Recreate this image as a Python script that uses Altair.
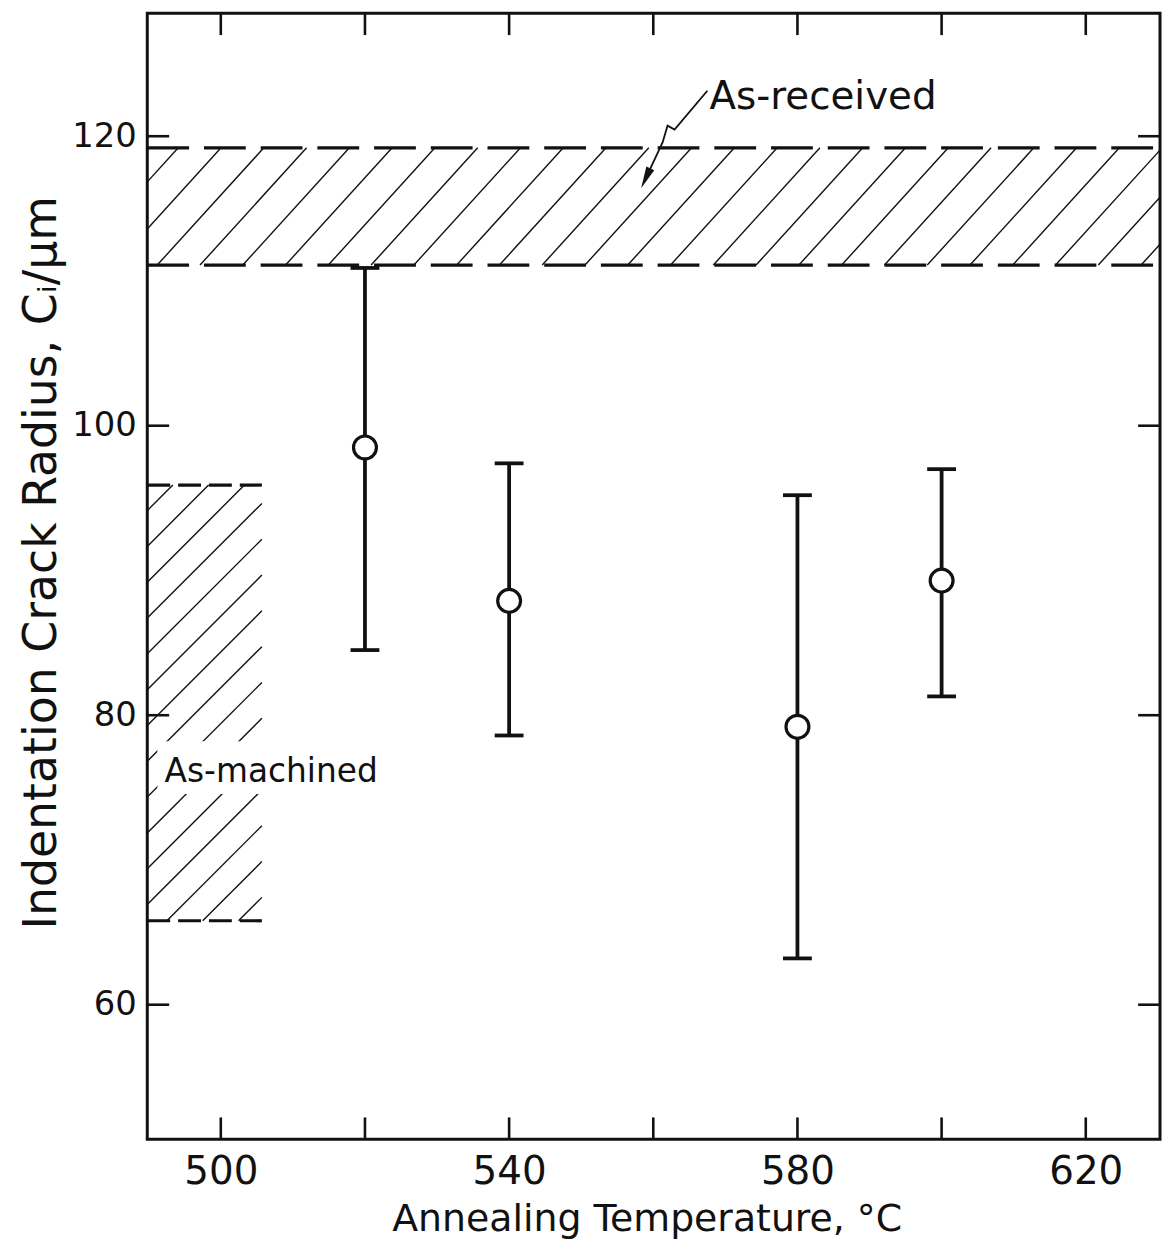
import altair as alt
import pandas as pd

# ---------------- data ----------------
temps = [520, 540, 580, 600]
radius = [98.5, 87.9, 79.2, 89.3]
err_hi = [110.9, 97.4, 95.2, 97.0]
err_lo = [84.5, 78.6, 63.2, 81.3]

received_lo, received_hi = 111.1, 119.2
machined_lo, machined_hi = 65.8, 95.9
machined_x_end = 505.7

x_tick_values = [500, 520, 540, 560, 580, 600, 620]
x_label_values = [500, 540, 580, 620]
y_tick_values = [60, 80, 100, 120]

X_DOMAIN = [489.8, 630.3]
Y_DOMAIN = [50.7, 128.5]

# annotation anchors (data units)
received_text = {"x": 567.8, "y": 121.85, "t": "As-received"}
machined_text = {"x": 492.2, "y": 75.4, "t": "As-machined"}
machined_text_box = {"x": 491.2, "x2": 521.8, "y": 74.55, "y2": 78.2}
leader_x = [567.5, 562.95, 561.98, 561.29, 558.95]
leader_y = [123.14, 120.46, 120.73, 119.57, 117.09]
arrow_pt = {"x": 558.95, "y": 117.09}

# ---------------- layout ----------------
W, H = 1018, 1132
TICK = 22
FONT = "DejaVu Sans"
INK = "#111111"

kx = W / (X_DOMAIN[1] - X_DOMAIN[0])
ky = H / (Y_DOMAIN[1] - Y_DOMAIN[0])


def hatch_segments(x0, x1, y0, y1, spacing_px, slope, phase_px):
    X0 = (x0 - X_DOMAIN[0]) * kx
    X1 = (x1 - X_DOMAIN[0]) * kx
    run = (y1 - y0) * ky / slope
    segs = []
    c = phase_px
    while c - spacing_px > X0 - run:
        c -= spacing_px
    while c < X1:
        xa = max(c, X0)
        xb = min(c + run, X1)
        if xb > xa:
            segs.append({
                "x": X_DOMAIN[0] + xa / kx,
                "y": y0 + (xa - c) * slope / ky,
                "x2": X_DOMAIN[0] + xb / kx,
                "y2": y0 + (xb - c) * slope / ky,
            })
        c += spacing_px
    return segs


xs = alt.Scale(domain=X_DOMAIN, nice=False, zero=False)
ys = alt.Scale(domain=Y_DOMAIN, nice=False, zero=False)

X_AXIS = alt.Axis(
    values=x_label_values, ticks=False, domain=False, grid=False,
    labelFont=FONT, labelFontSize=39, labelColor=INK, labelPadding=13,
    labelFlush=False, labelOverlap=False, format="d",
    title="Annealing Temperature, °C", titleFont=FONT, titleFontSize=38,
    titleFontWeight="normal", titleColor=INK, titleX=502, titleY=92,
    titleBaseline="alphabetic", titleAlign="center")
Y_AXIS = alt.Axis(
    values=y_tick_values, ticks=False, domain=False, grid=False,
    labelFont=FONT, labelFontSize=34, labelColor=INK, labelPadding=11,
    labelFlush=False, labelOverlap=False, format="d",
    title="Indentation Crack Radius, Cᵢ/μm", titleFont=FONT, titleFontSize=46,
    titleFontWeight="normal", titleColor=INK, titleAngle=270, titleX=-92,
    titleY=552, titleBaseline="alphabetic", titleAlign="center")


def X(field):
    return alt.X(field, scale=xs, axis=X_AXIS)


def Y(field):
    return alt.Y(field, scale=ys, axis=Y_AXIS)


points = pd.DataFrame({"T": temps, "C": radius, "hi": err_hi, "lo": err_lo})

# hatching
hatch_df = pd.DataFrame(
    hatch_segments(X_DOMAIN[0], X_DOMAIN[1], received_lo, received_hi, 43, 1.1, 10)
    + hatch_segments(X_DOMAIN[0], machined_x_end, machined_lo, machined_hi, 36, 1.0, 19.7)
)
hatch = alt.Chart(hatch_df).mark_rule(color=INK, strokeWidth=1.4).encode(
    x=X("x:Q"), y=Y("y:Q"), x2="x2:Q", y2="y2:Q",
)

# white box behind the As-machined label
box = alt.Chart(pd.DataFrame([machined_text_box])).mark_rect(fill="white", opacity=1).encode(
    x=X("x:Q"), x2="x2:Q", y=Y("y:Q"), y2="y2:Q",
)

# dashed band edges
recv_df = pd.DataFrame({"y": [received_lo, received_hi],
                        "x": [X_DOMAIN[0]] * 2, "x2": [X_DOMAIN[1]] * 2})
recv_lines = alt.Chart(recv_df).mark_rule(color=INK, strokeWidth=3.2, strokeDash=[42, 15]).encode(
    x=X("x:Q"), x2="x2:Q", y=Y("y:Q"),
)
mach_df = pd.DataFrame({"y": [machined_lo, machined_hi],
                        "x": [X_DOMAIN[0]] * 2, "x2": [machined_x_end] * 2})
mach_lines = alt.Chart(mach_df).mark_rule(color=INK, strokeWidth=3.2, strokeDash=[23, 8]).encode(
    x=X("x:Q"), x2="x2:Q", y=Y("y:Q"),
)

# error bars
bars = alt.Chart(points).mark_rule(color=INK, strokeWidth=3.8).encode(
    x=X("T:Q"), y=Y("lo:Q"), y2="hi:Q",
)
cap_hi = alt.Chart(points).mark_tick(
    color=INK, orient="horizontal", size=29, thickness=3.8, opacity=1
).encode(x=X("T:Q"), y=Y("hi:Q"))
cap_lo = alt.Chart(points).mark_tick(
    color=INK, orient="horizontal", size=29, thickness=3.8, opacity=1
).encode(x=X("T:Q"), y=Y("lo:Q"))
circles = alt.Chart(points).mark_point(
    shape="circle", size=530, fill="white", fillOpacity=1, stroke=INK, strokeWidth=3.2, opacity=1
).encode(x=X("T:Q"), y=Y("C:Q"))

# inward ticks on all four sides
xt = pd.DataFrame({"v": x_tick_values})
yt = pd.DataFrame({"v": y_tick_values})
tick_bottom = alt.Chart(xt).mark_rule(color=INK, strokeWidth=2.6).encode(
    x=X("v:Q"), y=alt.value(H), y2=alt.value(H - TICK))
tick_top = alt.Chart(xt).mark_rule(color=INK, strokeWidth=2.6).encode(
    x=X("v:Q"), y=alt.value(0), y2=alt.value(TICK))
tick_left = alt.Chart(yt).mark_rule(color=INK, strokeWidth=2.6).encode(
    y=Y("v:Q"), x=alt.value(0), x2=alt.value(TICK))
tick_right = alt.Chart(yt).mark_rule(color=INK, strokeWidth=2.6).encode(
    y=Y("v:Q"), x=alt.value(W), x2=alt.value(W - TICK))

# annotations
text_df = pd.DataFrame([received_text])
recv_label = alt.Chart(text_df).mark_text(
    font=FONT, fontSize=39, color=INK, align="left", baseline="alphabetic"
).encode(x=X("x:Q"), y=Y("y:Q"), text="t:N")
mtext_df = pd.DataFrame([machined_text])
mach_label = alt.Chart(mtext_df).mark_text(
    font=FONT, fontSize=33, color=INK, align="left", baseline="alphabetic"
).encode(x=X("x:Q"), y=Y("y:Q"), text="t:N")

leader_df = pd.DataFrame({"x": leader_x, "y": leader_y, "i": list(range(len(leader_x)))})
leader = alt.Chart(leader_df).mark_line(color=INK, strokeWidth=1.8).encode(
    x=X("x:Q"), y=Y("y:Q"), order="i:Q")
arrow = alt.Chart(pd.DataFrame([arrow_pt])).mark_point(
    shape="M0,1 L-0.4,-1 L0.4,-1 Z", size=480, filled=True, color=INK, opacity=1, angle=25
).encode(x=X("x:Q"), y=Y("y:Q"))

chart = alt.layer(
    hatch, box, recv_lines, mach_lines, bars, cap_hi, cap_lo, circles,
    tick_bottom, tick_top, tick_left, tick_right,
    mach_label, recv_label, leader, arrow,
).properties(
    width=W, height=H,
    background="white",
    autosize=alt.AutoSizeParams(type="none"),
    padding={"left": 140, "top": 2, "right": 3, "bottom": 102},
).configure_view(
    stroke=INK, strokeWidth=3, fill="white"
)

chart.save("out.html", embed_options={"renderer": "svg", "actions": False})
